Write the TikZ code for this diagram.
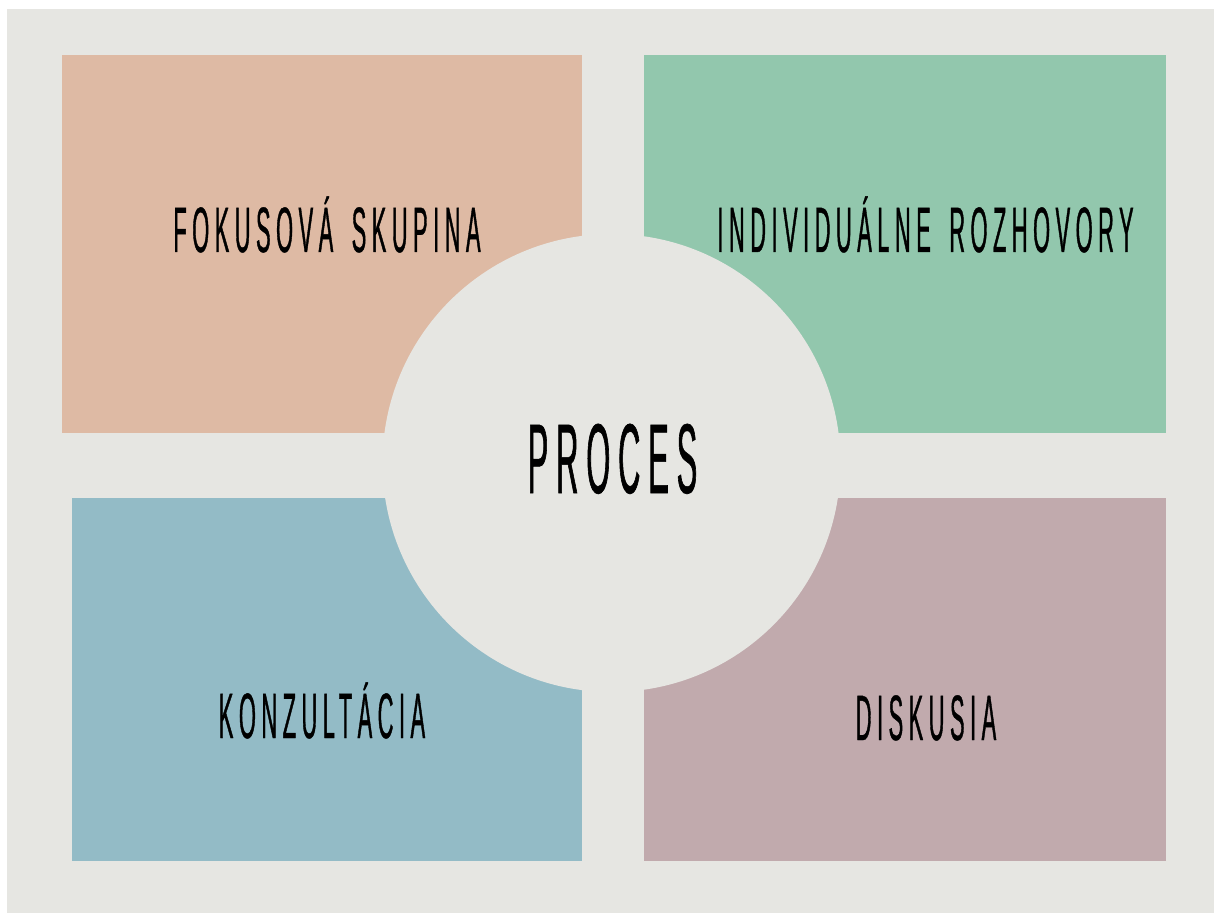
\documentclass[tikz,border=0pt]{standalone}
\usepackage{fontspec}
\newfontfamily\boxfont{Liberation Sans}[FakeStretch=0.34, LetterSpace=8.6, FakeBold=0.6, WordSpace=1.6]
\newfontfamily\hubfont{Liberation Sans}[FakeStretch=0.31, LetterSpace=8, FakeBold=0.6]
\definecolor{paper}{HTML}{E6E6E2}
\definecolor{peach}{HTML}{DEBAA4}
\definecolor{mint}{HTML}{92C7AD}
\definecolor{slate}{HTML}{93BBC6}
\definecolor{mauve}{HTML}{C1AAAD}
\begin{document}
\begin{tikzpicture}
            \tikzstyle{tile} = [draw=none]
            \tikzstyle{label} = [inner sep=0pt, anchor=base, text=black, font=\boxfont\fontsize{36.5}{40}\selectfont]
            \tikzstyle{hub} = [inner sep=0pt, anchor=base, text=black, font=\hubfont\fontsize{56.4}{60}\selectfont]
            \useasboundingbox (0, 0) rectangle (24.28, 18.26);
            \fill[white] (0, 0) rectangle (24.28, 18.26);
            \fill[paper] (0.14, 0) rectangle (24.28, 18.08);
            \fill[tile, peach] (1.24, 9.6) rectangle (11.64, 17.16);
            \fill[tile, mint] (12.88, 9.6) rectangle (23.32, 17.16);
            \fill[tile, slate] (1.44, 1.04) rectangle (11.64, 8.3);
            \fill[tile, mauve] (12.88, 1.04) rectangle (23.32, 8.3);
            \fill[paper] (12.23, 9.0) circle[radius=4.58cm];
            \node[label] (fokus) at (6.54, 13.22) {FOKUSOVÁ SKUPINA};
            \node[label] (indiv) at (18.51, 13.22) {INDIVIDUÁLNE ROZHOVORY};
            \node[hub] (proces) at (12.25, 8.4) {PROCES};
            \node[label] (konz) at (6.44, 3.5) {KONZULTÁCIA};
            \node[label] (disk) at (18.52, 3.46) {DISKUSIA};
        \end{tikzpicture}
\end{document}
